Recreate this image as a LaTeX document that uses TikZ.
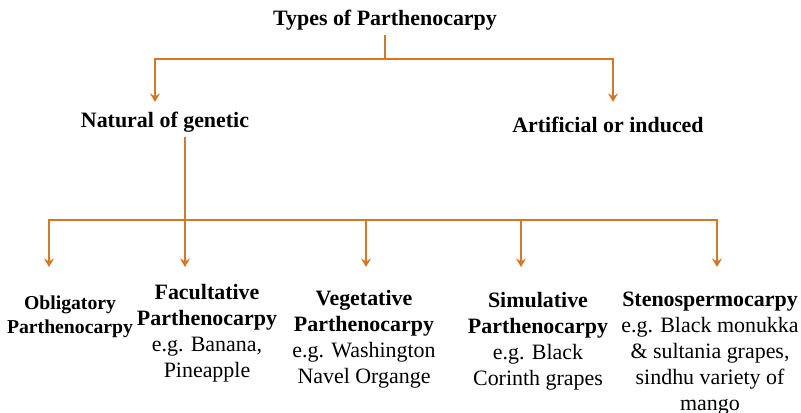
\documentclass[tikz,border=0pt]{standalone}
\usepackage{fontspec}
\setmainfont{Liberation Serif}
\usepackage{tikz}
\usetikzlibrary{arrows.meta}
\definecolor{branch}{RGB}{210,120,40}

\begin{document}
\begin{tikzpicture}[x=0.025cm, y=-0.025cm,
    font=\fontsize{15.6}{18.5}\selectfont,
    link/.style={branch, line width=1.4pt},
    arr/.style={link, -{Stealth[length=6pt,width=7pt,inset=2pt]}},
    head/.style={font=\fontsize{15.6}{18.5}\selectfont\bfseries},
    leaf/.style={align=center, anchor=north, inner sep=0pt}]
    \useasboundingbox (0,0) rectangle (801,413);

    % top of the tree
    \node[head] (types) at (385,20) {Types of Parthenocarpy};

    % the two main kinds
    \node[head] (natural) at (165,122) {Natural of genetic};
    \node[head] (artificial) at (608,125) {Artificial or induced};

    % the five kinds of natural parthenocarpy
    \node[leaf, font=\fontsize{14}{17}\selectfont] (obligatory) at (70,296) {\textbf{Obligatory}\\\textbf{Parthenocarpy}};
    \node[leaf] (facultative) at (207,284) {\textbf{Facultative}\\\textbf{Parthenocarpy}\\e.g. Banana,\\Pineapple};
    \node[leaf] (vegetative) at (364,290) {\textbf{Vegetative}\\\textbf{Parthenocarpy}\\e.g. Washington\\Navel Organge};
    \node[leaf] (simulative) at (538,292) {\textbf{Simulative}\\\textbf{Parthenocarpy}\\e.g. Black\\Corinth grapes};
    \node[leaf] (steno) at (710,292) {\textbf{Stenospermocarpy}\\e.g. Black monukka\\\& sultania grapes,\\sindhu variety of\\mango};

    % branch points and arrow ends
    \coordinate (top) at (385,59);
    \coordinate (natIn) at (155,102);
    \coordinate (artIn) at (613,102);
    \coordinate (low) at (185,220);
    \coordinate (oblIn) at (49,267);
    \coordinate (facIn) at (185,267);
    \coordinate (vegIn) at (366,267);
    \coordinate (simIn) at (521,267);
    \coordinate (steIn) at (717,267);

    % first split
    \draw[link] (types) -- (top);
    \draw[arr] (top) -| (natIn);
    \draw[arr] (top) -| (artIn);

    % second split
    \draw[link] (natural.south -| low) -- (low);
    \draw[arr] (low) -| (oblIn);
    \draw[arr] (low) -- (facIn);
    \draw[arr] (low) -| (vegIn);
    \draw[arr] (low) -| (simIn);
    \draw[arr] (low) -| (steIn);
\end{tikzpicture}
\end{document}
